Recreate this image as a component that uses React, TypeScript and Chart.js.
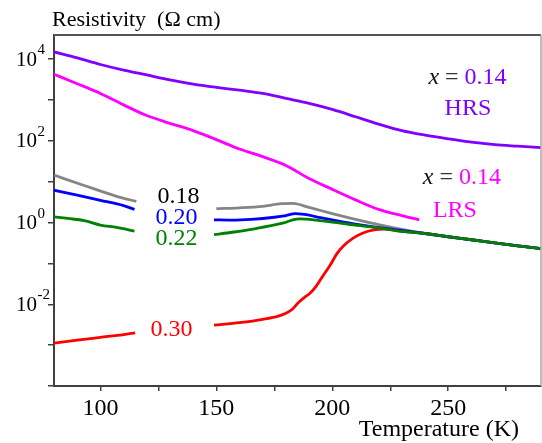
import { useEffect, useRef } from "react";
import { Chart, registerables } from "chart.js";

Chart.register(...registerables);

const FONT = '"Liberation Serif", "Times New Roman", serif';

// Temperature (K) and resistivity (Ω cm) for each curve; null marks the gap left for labels
const hrsT = [80, 90, 100, 110, 120, 130, 140, 150, 160, 170, 180, 190, 200, 210, 220, 230, 240, 250, 260, 270, 280, 290];
const hrsR = [1.5e4, 1.07e4, 7.4e3, 5.4e3, 4.1e3, 3.1e3, 2.45e3, 2.04e3, 1.74e3, 1.45e3, 1.1e3, 830, 590, 390, 257, 178, 138, 112, 93, 81, 74, 68];

const lrsT = [80, 90, 100, 110, 120, 130, 140, 150, 160, 170, 180, 190, 200, 210, 220, 230, 237.5];
const lrsR = [4270, 2510, 1450, 760, 417, 269, 178, 107, 63, 41, 25, 12, 6.5, 3.6, 2.1, 1.48, 1.17];

const x18T = [80, 93, 107, 115.5, 130, 150, 160, 170, 178, 183, 190, 200, 210, 220, 230, 240, 250, 260, 270, 280, 290];
const x18R = [14.5, 8.1, 4.4, 3.3, null, 2.2, 2.3, 2.5, 2.9, 2.95, 2.35, 1.66, 1.2, 0.89, 0.68, 0.54, 0.45, 0.38, 0.32, 0.27, 0.23];

const x20T = [80, 90, 100, 110, 114.7, 130, 149, 157, 165, 175, 180, 184, 188, 195, 205, 215, 229, 240, 250, 260, 270, 280, 290];
const x20R = [6.2, 4.7, 3.5, 2.6, 2.1, null, 1.17, 1.15, 1.2, 1.35, 1.48, 1.66, 1.58, 1.32, 1.02, 0.83, 0.65, 0.54, 0.45, 0.38, 0.32, 0.27, 0.23];

const x22T = [80, 86, 93, 100, 107, 114.7, 130, 149, 157, 165, 173, 179, 183, 186, 193, 207, 220, 229, 240, 250, 260, 270, 280, 290];
const x22R = [1.38, 1.26, 1.12, 0.87, 0.76, 0.62, null, 0.51, 0.58, 0.68, 0.83, 0.98, 1.17, 1.23, 1.15, 0.91, 0.74, 0.62, 0.54, 0.45, 0.38, 0.32, 0.27, 0.23];

const x30T = [80, 90, 100, 110, 115, 130, 149, 160, 170, 176, 180, 183, 185, 187.5, 190.5, 193, 196, 199, 202, 205, 209, 213, 218, 222, 229, 240, 250, 260, 270, 280, 290];
const x30R = [1.12e-3, 1.32e-3, 1.55e-3, 1.82e-3, 2.0e-3, null, 3.1e-3, 3.55e-3, 4.3e-3, 5.0e-3, 6.0e-3, 7.8e-3, 0.0105, 0.014, 0.019, 0.0275, 0.05, 0.089, 0.174, 0.275, 0.417, 0.55, 0.66, 0.69, 0.62, 0.54, 0.45, 0.38, 0.32, 0.27, 0.23];

const xTicks = [100, 125, 150, 175, 200, 225, 250, 275];
const xLabels = [100, 150, 200, 250];
const yTicks = [1e-4, 1e-3, 1e-2, 1e-1, 1, 10, 100, 1e3, 1e4];
const yLabelExps = [-2, 0, 2, 4];

// curve labels placed in data coordinates (T, R)
const curveLabels = [
  { text: "0.18", color: "#000000", t: 133.7, r: 4.2 },
  { text: "0.20", color: "#0000FF", t: 132.8, r: 1.29 },
  { text: "0.22", color: "#008000", t: 132.8, r: 0.4 },
  { text: "0.30", color: "#FF0000", t: 130.7, r: 0.00245 },
  { text: "HRS", color: "#8000FF", t: 258.5, r: 630 },
  { text: "LRS", color: "#FF00FF", t: 252.9, r: 2.0 },
];
const compLabels = [
  { value: "0.14", color: "#8000FF", t: 258.3, r: 3600 },
  { value: "0.14", color: "#FF00FF", t: 255.9, r: 12.3 },
];

const pts = (t: number[], r: (number | null)[]) => t.map((x, i) => ({ x, y: r[i] }));

const overlay = {
  id: "overlay",
  afterDraw(chart: any) {
    const { ctx, chartArea: a } = chart;
    const xs = chart.scales.x;
    const ys = chart.scales.y;
    ctx.save();
    // frame top / right
    ctx.strokeStyle = "#555555";
    ctx.lineWidth = 2;
    ctx.beginPath();
    ctx.moveTo(a.left, a.top);
    ctx.lineTo(a.right, a.top);
    ctx.stroke();
    ctx.strokeStyle = "#a8a8a8";
    ctx.lineWidth = 1.5;
    ctx.beginPath();
    ctx.moveTo(a.right, a.top);
    ctx.lineTo(a.right, a.bottom);
    ctx.stroke();

    // y tick labels 10^n
    ctx.fillStyle = "#000";
    ctx.textBaseline = "middle";
    ctx.textAlign = "left";
    for (const e of yLabelExps) {
      const py = ys.getPixelForValue(Math.pow(10, e));
      ctx.font = `21px ${FONT}`;
      const x0 = 16;
      ctx.fillText("10", x0, py + 1);
      const w = ctx.measureText("10").width;
      ctx.font = `15px ${FONT}`;
      ctx.fillText(String(e), x0 + w + 0.5, py - 9);
    }

    // axis titles
    ctx.font = `22px ${FONT}`;
    ctx.textAlign = "left";
    ctx.fillText("Resistivity  (\u03A9 cm)", 52, 20);
    ctx.font = `24px ${FONT}`;
    ctx.textAlign = "right";
    ctx.fillText("Temperature (K)", 519, 430);

    // curve labels
    ctx.textAlign = "center";
    ctx.font = `24px ${FONT}`;
    for (const l of curveLabels) {
      ctx.fillStyle = l.color;
      ctx.fillText(l.text, xs.getPixelForValue(l.t), ys.getPixelForValue(l.r));
    }
    ctx.textAlign = "left";
    for (const l of compLabels) {
      const cx = xs.getPixelForValue(l.t);
      const cy = ys.getPixelForValue(l.r);
      ctx.font = `italic 24px ${FONT}`;
      const w1 = ctx.measureText("x").width;
      ctx.font = `24px ${FONT}`;
      const w2 = ctx.measureText(" = ").width;
      const w3 = ctx.measureText(l.value).width;
      let x = cx - (w1 + w2 + w3) / 2;
      ctx.font = `italic 24px ${FONT}`;
      ctx.fillStyle = "#111";
      ctx.fillText("x", x, cy);
      x += w1;
      ctx.font = `24px ${FONT}`;
      ctx.fillStyle = "#333";
      ctx.fillText(" = ", x, cy);
      x += w2;
      ctx.fillStyle = l.color;
      ctx.fillText(l.value, x, cy);
    }
    ctx.restore();
  },
};

export default function App() {
  const ref = useRef<HTMLCanvasElement>(null);
  useEffect(() => {
    document.body.style.margin = "0";
    const line = (data: any, color: string, order: number) => ({
      data,
      borderColor: color,
      backgroundColor: color,
      borderWidth: 2.8,
      pointRadius: 0,
      fill: false,
      spanGaps: false,
      cubicInterpolationMode: "monotone" as const,
      order,
    });
    const chart = new Chart(ref.current!, {
      type: "line",
      data: {
        datasets: [
          line(pts(hrsT, hrsR), "#8000FF", 5),
          line(pts(lrsT, lrsR), "#FF00FF", 4),
          line(pts(x18T, x18R), "#858585", 2),
          line(pts(x20T, x20R), "#0000FF", 1),
          line(pts(x22T, x22R), "#008000", 0),
          line(pts(x30T, x30R), "#FF0000", 3),
        ],
      },
      options: {
        animation: false,
        responsive: false,
        devicePixelRatio: 1,
        layout: { padding: { top: 35, right: 1, left: 0, bottom: 0 } },
        plugins: {
          legend: { display: false },
          tooltip: { enabled: false },
        },
        scales: {
          x: {
            type: "linear",
            min: 80,
            max: 290,
            afterBuildTicks: (s: any) => {
              s.ticks = xTicks.map((v) => ({ value: v }));
            },
            afterFit: (s: any) => {
              s.height = 57;
            },
            ticks: {
              callback: (v: any) => (xLabels.includes(Number(v)) ? String(v) : ""),
              font: { family: FONT, size: 24 },
              color: "#000",
              padding: 3,
              autoSkip: false,
              maxRotation: 0,
            },
            grid: { drawOnChartArea: false, drawTicks: true, tickLength: 5, color: "#404040", lineWidth: 1.5 },
            border: { display: true, color: "#404040", width: 2 },
          },
          y: {
            type: "logarithmic",
            min: 1e-4,
            max: 3.9e4,
            afterBuildTicks: (s: any) => {
              s.ticks = yTicks.map((v) => ({ value: v }));
            },
            afterFit: (s: any) => {
              s.width = 54;
            },
            ticks: {
              callback: () => "",
              font: { family: FONT, size: 10 },
              autoSkip: false,
            },
            grid: { drawOnChartArea: false, drawTicks: true, tickLength: 6, color: "#404040", lineWidth: 1.5 },
            border: { display: true, color: "#404040", width: 2 },
          },
        },
      },
      plugins: [overlay],
    } as any);
    return () => chart.destroy();
  }, []);
  return <canvas ref={ref} width={542} height={443} style={{ display: "block", width: 542, height: 443 }} />;
}
